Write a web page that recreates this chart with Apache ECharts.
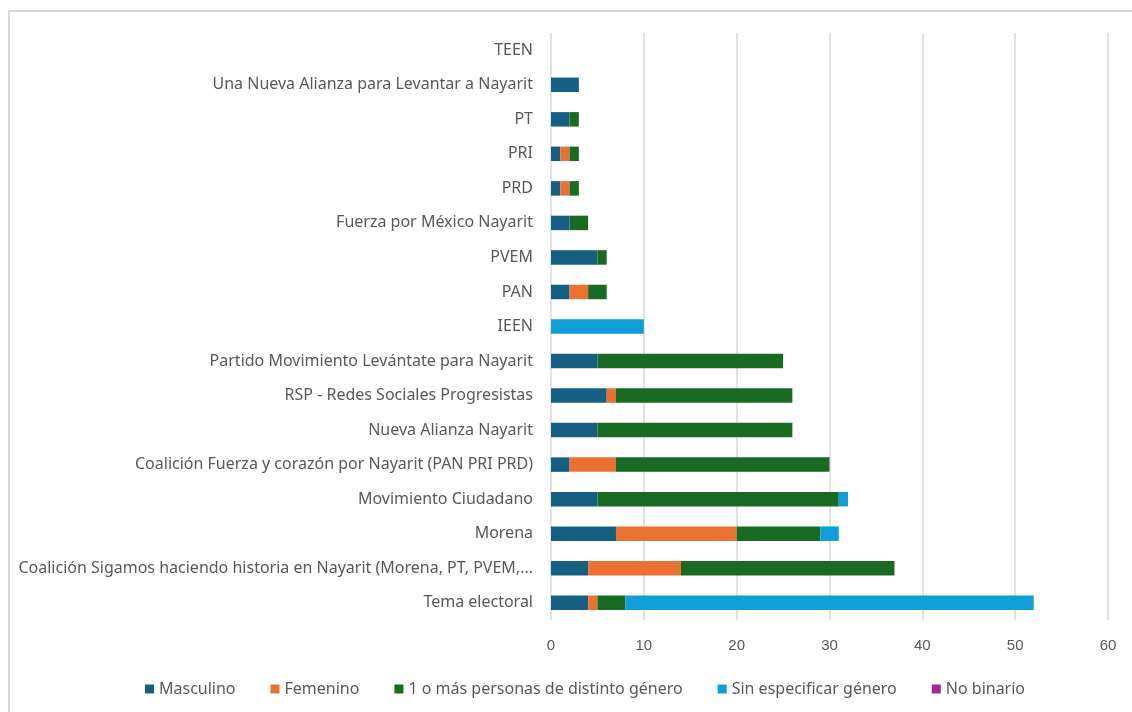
<!DOCTYPE html>
<html>
<head>
<meta charset="utf-8">
<script src="https://cdn.jsdelivr.net/npm/echarts@6/dist/echarts.min.js"></script>
<style>
  html, body { margin: 0; padding: 0; background: #fff; }
  #frame {
    position: absolute; left: 8px; top: 10px; width: 1130px; height: 710px;
    border-left: 2px solid #d9d9d9; border-top: 2px solid #d9d9d9;
  }
  #chart { position: absolute; left: 0; top: 0; width: 1132px; height: 712px; }
</style>
</head>
<body>
<div id="frame"></div>
<div id="chart"></div>
<script>
// categories, bottom to top
const categories = [
  'Tema electoral',
  'Coalición Sigamos haciendo historia en Nayarit (Morena, PT, PVEM,...',
  'Morena',
  'Movimiento Ciudadano',
  'Coalición Fuerza y corazón por Nayarit (PAN PRI PRD)',
  'Nueva Alianza Nayarit',
  'RSP - Redes Sociales Progresistas',
  'Partido Movimiento Levántate para Nayarit',
  'IEEN',
  'PAN',
  'PVEM',
  'Fuerza por México Nayarit',
  'PRD',
  'PRI',
  'PT',
  'Una Nueva Alianza para Levantar a Nayarit',
  'TEEN'
]

const masculino = [4, 4, 7, 5, 2, 5, 6, 5, 0, 2, 5, 2, 1, 1, 2, 3, 0]
const femenino  = [1, 10, 13, 0, 5, 0, 1, 0, 0, 2, 0, 0, 1, 1, 0, 0, 0]
const distinto  = [3, 23, 9, 26, 23, 21, 19, 20, 0, 2, 1, 2, 1, 1, 1, 0, 0]
const sinEspec  = [44, 0, 2, 1, 0, 0, 0, 0, 10, 0, 0, 0, 0, 0, 0, 0, 0]
const noBinario = [0, 0, 0, 0, 0, 0, 0, 0, 0, 0, 0, 0, 0, 0, 0, 0, 0]

const xTicks = { min: 0, max: 60, interval: 10 }

const seriesDefs = [
  { name: 'Masculino', data: masculino, color: '#156082' },
  { name: 'Femenino', data: femenino, color: '#E97132' },
  { name: '1 o más personas de distinto género', data: distinto, color: '#196B24' },
  { name: 'Sin especificar género', data: sinEspec, color: '#0F9ED5' },
  { name: 'No binario', data: noBinario, color: '#A02B93' }
]

const font = '"Noto Sans", "Open Sans", sans-serif'
const chart = echarts.init(document.getElementById('chart'))
const option = {
  animation: false,
  textStyle: { fontFamily: font },
  grid: { left: 551, right: 24, top: 33, bottom: 92, containLabel: false },
  legend: {
    bottom: 10,
    left: 140,
    itemWidth: 9,
    itemHeight: 9,
    itemGap: 35,
    icon: 'rect',
    textStyle: { fontSize: 16, color: '#595959', fontFamily: font },
    data: seriesDefs.map(s => s.name)
  },
  xAxis: {
    type: 'value',
    min: xTicks.min,
    max: xTicks.max,
    interval: xTicks.interval,
    axisLine: { show: false },
    axisTick: { show: false },
    axisLabel: { color: '#595959', fontSize: 15, margin: 18, fontFamily: '"Liberation Sans", Arial, sans-serif' },
    splitLine: { lineStyle: { color: '#d9d9d9', width: 1.5 } }
  },
  yAxis: {
    type: 'category',
    data: categories,
    axisLine: { show: false },
    axisTick: { show: false },
    axisLabel: { color: '#595959', fontSize: 16, margin: 18 }
  },
  series: seriesDefs.map(s => ({
    name: s.name,
    type: 'bar',
    stack: 'total',
    barWidth: '42%',
    data: s.data,
    itemStyle: { color: s.color }
  }))
}
chart.setOption(option)
</script>
</body>
</html>
